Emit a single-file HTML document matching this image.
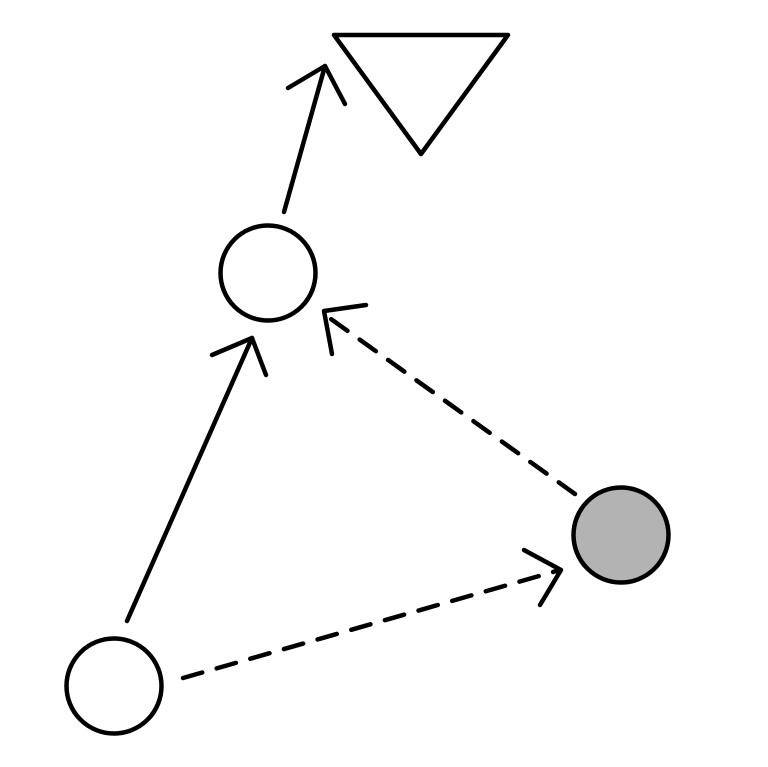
<!DOCTYPE html>
<html><head><style>html,body{margin:0;padding:0;background:#fff}</style></head>
<body>
<svg width="768" height="762" viewBox="0 0 768 762" xmlns="http://www.w3.org/2000/svg">
<g fill="none" stroke="#000" stroke-width="4.5" stroke-linecap="round" stroke-linejoin="round">
<polygon points="334,35 508,35 421,154" fill="#fff"/>
<circle cx="268" cy="273" r="47.5" fill="#fff"/>
<circle cx="114" cy="686" r="47.5" fill="#fff"/>
<circle cx="621" cy="535" r="47.5" fill="#b3b3b3"/>
<line x1="284" y1="212" x2="325" y2="66"/>
<polyline points="288,88 325,66 345,104"/>
<line x1="127" y1="621" x2="252" y2="338"/>
<polyline points="212,355 252,338 266,375"/>
<line x1="575" y1="494" x2="324" y2="314" stroke-dasharray="20,15"/>
<polyline points="366,305 324,311 332,354"/>
<line x1="183" y1="678" x2="560" y2="570" stroke-dasharray="20,15"/>
<polyline points="524,550 561,570 540,605"/>
</g>
</svg>
</body></html>
